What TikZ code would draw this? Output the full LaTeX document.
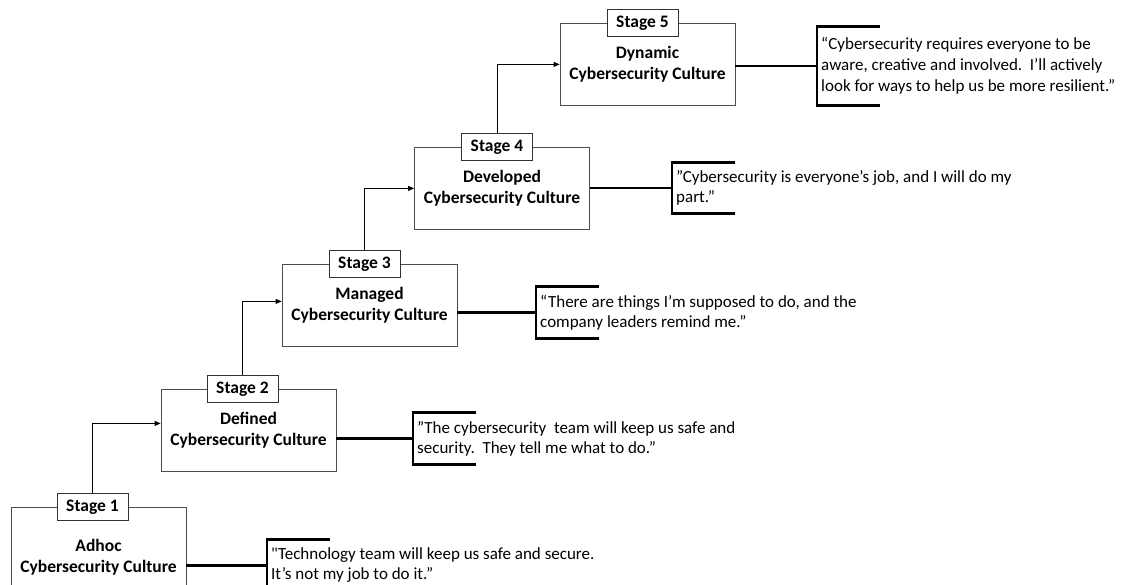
\documentclass[tikz,border=0pt]{standalone}
\usepackage{fontspec}
\setmainfont{Carlito}
\newfontfamily\sayfont{Carlito}
\usetikzlibrary{arrows.meta}

\begin{document}
\begin{tikzpicture}[x=1pt, y=-1pt,
  stage/.style={draw=black!70, line width=0.8pt, minimum width=175pt, minimum height=82pt, inner sep=0pt, align=center, font=\bfseries\fontsize{17.5}{21}\selectfont},
  tag/.style={draw=black!80, fill=white, line width=0.8pt, minimum width=71pt, minimum height=27pt, inner sep=0pt, font=\bfseries\fontsize{17.5}{21}\selectfont},
  say/.style={anchor=west, align=left, inner xsep=4pt, inner ysep=0pt, minimum height=51pt, font=\sayfont\fontsize{17}{20}\selectfont},
  link/.style={line width=2.8pt},
  climb/.style={line width=0.8pt, -{Triangle[length=6pt,width=5pt]}}]
\useasboundingbox (0,0) rectangle (1141,585);

% the five stages
\node[stage, anchor=north, minimum height=100pt] (s1) at (98.5,507) {Adhoc\\Cybersecurity Culture};
\node[stage, anchor=north] (s2) at (248.5,389) {Defined\\Cybersecurity Culture};
\node[stage, anchor=north] (s3) at (369.5,264) {Managed\\Cybersecurity Culture};
\node[stage, anchor=north] (s4) at (502,147) {Developed\\Cybersecurity Culture};
\node[stage, anchor=north] (s5) at (647.5,23) {Dynamic\\Cybersecurity Culture};

\node[tag] (t1) at ([xshift=-6pt]s1.north) {Stage 1};
\node[tag] (t2) at ([xshift=-6pt]s2.north) {Stage 2};
\node[tag] (t3) at ([xshift=-5pt]s3.north) {Stage 3};
\node[tag] (t4) at ([xshift=-5pt]s4.north) {Stage 4};
\node[tag] (t5) at ([xshift=-5pt]s5.north) {Stage 5};

% steps up
\draw[climb] (t1.north) |- ([yshift=7pt]s2.west);
\draw[climb] (t2.north) |- ([yshift=4pt]s3.west);
\draw[climb] (t3.north) |- (s4.west);
\draw[climb] (t4.north) |- (s5.west);

% quotes
\node[say] (q1) at (267,565.5) {"Technology team will keep us safe and secure.\\It’s not my job to do it.”};
\node[say] (q2) at (413,438.5) {”The cybersecurity\ \ team will keep us safe and\\security.\ \ They tell me what to do.”};
\node[say] (q3) at (536,312.5) {“There are things I’m supposed to do, and the\\company leaders remind me.”};
\node[say] (q4) at (672,188) {”Cybersecurity is everyone’s job, and I will do my\\part.”};
\node[say, minimum height=79pt, font=\sayfont\fontsize{17}{21}\selectfont] (q5) at (817,66) {“Cybersecurity requires everyone to be\\aware, creative and involved.\ \ I’ll actively\\look for ways to help us be more resilient.”};

\draw[link] (s1.east |- q1.west) -- (q1.west);
\draw[link] (s2.east |- q2.west) -- (q2.west);
\draw[link] (s3.east |- q3.west) -- (q3.west);
\draw[link] (s4.east |- q4.west) -- (q4.west);
\draw[link] (s5.east |- q5.west) -- (q5.west);

\draw[link] ([xshift=63pt]q1.north west) -- (q1.north west) -- (q1.south west) -- ([xshift=63pt]q1.south west);
\draw[link] ([xshift=63pt]q2.north west) -- (q2.north west) -- (q2.south west) -- ([xshift=63pt]q2.south west);
\draw[link] ([xshift=63pt]q3.north west) -- (q3.north west) -- (q3.south west) -- ([xshift=63pt]q3.south west);
\draw[link] ([xshift=63pt]q4.north west) -- (q4.north west) -- (q4.south west) -- ([xshift=63pt]q4.south west);
\draw[link] ([xshift=63pt]q5.north west) -- (q5.north west) -- (q5.south west) -- ([xshift=63pt]q5.south west);
\end{tikzpicture}
\end{document}
